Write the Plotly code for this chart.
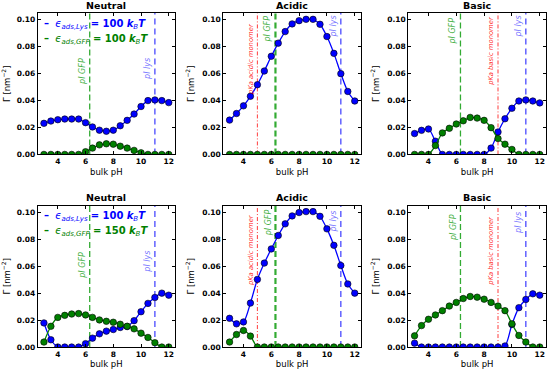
import plotly.graph_objects as go

# ---------------- data ----------------
ph = [3.0, 3.5, 4.0, 4.5, 5.0, 5.5, 6.0, 6.5, 7.0, 7.5, 8.0, 8.5, 9.0, 9.5, 10.0, 10.5, 11.0, 11.5, 12.0]

neutral_100_lys = [0.0231, 0.0248, 0.0258, 0.0263, 0.0263, 0.0263, 0.0236, 0.0204, 0.0180, 0.0172, 0.0180, 0.0213, 0.0253, 0.0300, 0.0356, 0.0400, 0.0405, 0.0400, 0.0385]
neutral_100_gfp = [0, 0, 0, 0, 0, 0, 0.0020, 0.0047, 0.0071, 0.0079, 0.0076, 0.0061, 0.0047, 0.0030, 0.0012, 0, 0, 0, 0]

acidic_100_lys = [0.0255, 0.0304, 0.0361, 0.0432, 0.0518, 0.0620, 0.0729, 0.0827, 0.0913, 0.0970, 0.0994, 0.1004, 0.1004, 0.0967, 0.0876, 0.0751, 0.0600, 0.0468, 0.0397]
acidic_100_gfp = [0, 0, 0, 0, 0, 0, 0, 0, 0, 0, 0, 0, 0, 0, 0, 0, 0, 0, 0]

basic_100_lys = [0.0155, 0.0179, 0.0189, 0.0098, 0, 0, 0, 0, 0, 0, 0, 0.0047, 0.0167, 0.0265, 0.0343, 0.0397, 0.0405, 0.0397, 0.0383]
basic_100_gfp = [0, 0, 0, 0.0066, 0.0160, 0.0194, 0.0226, 0.0250, 0.0275, 0.0270, 0.0253, 0.0199, 0.0118, 0.0076, 0.0037, 0, 0, 0, 0]

neutral_150_lys = [0.0179, 0.0054, 0, 0, 0, 0, 0.0025, 0.0066, 0.0098, 0.0118, 0.0130, 0.0145, 0.0152, 0.0196, 0.0262, 0.0324, 0.0368, 0.0400, 0.0385]
neutral_150_gfp = [0.0037, 0.0154, 0.0220, 0.0235, 0.0245, 0.0248, 0.0238, 0.0220, 0.0201, 0.0191, 0.0184, 0.0169, 0.0154, 0.0135, 0.0103, 0.0071, 0.0032, 0, 0]

acidic_150_lys = [0.0213, 0.0172, 0.0186, 0.0326, 0.0502, 0.0623, 0.0728, 0.0828, 0.0914, 0.0973, 0.0998, 0.1005, 0.1005, 0.0970, 0.0877, 0.0755, 0.0605, 0.0468, 0.0400]
acidic_150_gfp = [0.0037, 0.0093, 0.0123, 0.0081, 0, 0, 0, 0, 0, 0, 0, 0, 0, 0, 0, 0, 0, 0, 0]

basic_150_lys = [0.0029, 0, 0, 0, 0, 0, 0, 0, 0, 0, 0, 0, 0, 0.0008, 0.0167, 0.0292, 0.0353, 0.0395, 0.0385]
basic_150_gfp = [0.0083, 0.0159, 0.0206, 0.0238, 0.0270, 0.0304, 0.0331, 0.0360, 0.0375, 0.0370, 0.0355, 0.0331, 0.0304, 0.0270, 0.0172, 0.0086, 0.0037, 0, 0]

panel_titles = ["Neutral", "Acidic", "Basic", "Neutral", "Acidic", "Basic"]
lys_series = [neutral_100_lys, acidic_100_lys, basic_100_lys, neutral_150_lys, acidic_150_lys, basic_150_lys]
gfp_series = [neutral_100_gfp, acidic_100_gfp, basic_100_gfp, neutral_150_gfp, acidic_150_gfp, basic_150_gfp]

PI_GFP = 6.3
PI_LYS = 11.0
PKA_ACIDIC = 5.0
PKA_BASIC = 9.0

eps_lys = [100, 100]
eps_gfp = [100, 150]

x_ticks = [4, 6, 8, 10, 12]
y_ticks = [0.0, 0.02, 0.04, 0.06, 0.08, 0.10]
y_tick_text = ["0.00", "0.02", "0.04", "0.06", "0.08", "0.10"]

# label tops (data units) for vertical-line labels per panel
label_tops = [
    {"gfp": 0.073, "lys": 0.0735},
    {"gfp": 0.105, "lys": 0.105, "pka": 0.0995},
    {"gfp": 0.1035, "lys": 0.105, "pka": 0.1045},
    {"gfp": 0.072, "lys": 0.0733},
    {"gfp": 0.104, "lys": 0.103, "pka": 0.1005},
    {"gfp": 0.1005, "lys": 0.102, "pka": 0.099},
]
pka_lines = [None, ("pKa acidic monomer", PKA_ACIDIC), ("pKa basic monomer", PKA_BASIC),
             None, ("pKa acidic monomer", PKA_ACIDIC), ("pKa basic monomer", PKA_BASIC)]

# ---------------- styling ----------------
BLUE = "#0000ff"
GREEN = "#008000"
FONT = "DejaVu Sans"
W, H = 550, 377

x_domains = [[37.7 / W, 175 / W], [223.3 / W, 361 / W], [408.3 / W, 546 / W]]
y_domains = [[1 - 156.5 / H, 1 - 13.3 / H], [1 - 351.7 / H, 1 - 208.3 / H]]

fig = go.Figure()
layout = dict(
    width=W, height=H,
    margin=dict(l=0, r=0, t=0, b=0),
    paper_bgcolor="white", plot_bgcolor="white",
    showlegend=False,
    font=dict(family=FONT, color="black", size=8),
)
shapes = []
annotations = []

for i in range(6):
    n = i + 1
    xa = "x" if n == 1 else f"x{n}"
    ya = "y" if n == 1 else f"y{n}"
    col = i % 3
    row = i // 3

    fig.add_trace(go.Scatter(
        x=ph, y=lys_series[i], xaxis=xa, yaxis=ya, mode="lines+markers",
        line=dict(color=BLUE, width=1.3, shape="spline", smoothing=0.8),
        marker=dict(color=BLUE, size=6.5, line=dict(color="black", width=0.6)),
    ))
    fig.add_trace(go.Scatter(
        x=ph, y=gfp_series[i], xaxis=xa, yaxis=ya, mode="lines+markers",
        line=dict(color=GREEN, width=1.3, shape="spline", smoothing=0.8),
        marker=dict(color=GREEN, size=6.5, line=dict(color="black", width=0.6)),
    ))

    layout[f"xaxis{n if n > 1 else ''}"] = dict(
        domain=x_domains[col], anchor=ya, range=[2.55, 12.45],
        tickvals=x_ticks, ticks="inside", ticklen=3, tickwidth=0.8, tickcolor="black",
        showline=True, linecolor="black", linewidth=1, mirror="ticks",
        showgrid=False, zeroline=False,
        tickfont=dict(family=FONT, size=7.5, color="black", weight="bold"),
        title=dict(text="bulk pH", font=dict(family=FONT, size=8.5), standoff=3),
    )
    layout[f"yaxis{n if n > 1 else ''}"] = dict(
        domain=y_domains[row], anchor=xa, range=[0, 0.105],
        tickvals=y_ticks, ticktext=y_tick_text, ticks="inside", ticklen=3, tickwidth=0.8, tickcolor="black",
        showline=True, linecolor="black", linewidth=1, mirror="ticks",
        showgrid=False, zeroline=False,
        tickfont=dict(family=FONT, size=7.5, color="black", weight="bold"),
        title=dict(text="Γ [nm<sup>−2</sup>]", font=dict(family=FONT, size=8.5), standoff=6),
    )

    ydom = f"{ya} domain"
    # vertical reference lines
    gfp_w = 2.2 if col == 1 else 1.3
    shapes.append(dict(type="line", xref=xa, yref=ydom, x0=PI_GFP, x1=PI_GFP, y0=0, y1=1,
                       line=dict(color="rgba(0,150,0,0.8)", width=gfp_w, dash="6px,3px"), layer="below"))
    shapes.append(dict(type="line", xref=xa, yref=ydom, x0=PI_LYS, x1=PI_LYS, y0=0, y1=1,
                       line=dict(color="rgba(40,40,255,0.85)", width=1.3, dash="6px,4px"), layer="below"))
    annotations.append(dict(text="<i>pI GFP</i>", x=PI_GFP, y=label_tops[i]["gfp"], xref=xa, yref=ya,
                            xanchor="right", yanchor="top", textangle=-90, showarrow=False, xshift=-1,
                            font=dict(family=FONT, size=8, color="rgba(0,150,0,0.75)")))
    annotations.append(dict(text="<i>pI lys</i>", x=PI_LYS, y=label_tops[i]["lys"], xref=xa, yref=ya,
                            xanchor="right", yanchor="top", textangle=-90, showarrow=False, xshift=-1,
                            font=dict(family=FONT, size=8, color="rgba(60,60,255,0.7)")))
    if pka_lines[i] is not None:
        lbl, xv = pka_lines[i]
        shapes.append(dict(type="line", xref=xa, yref=ydom, x0=xv, x1=xv, y0=0, y1=1,
                           line=dict(color="rgba(255,0,0,0.85)", width=0.9, dash="4px,2px,1px,2px"), layer="below"))
        annotations.append(dict(text=f"<i>{lbl}</i>", x=xv, y=label_tops[i]["pka"], xref=xa, yref=ya,
                                xanchor="right", yanchor="top", textangle=-90, showarrow=False, xshift=-1,
                                font=dict(family=FONT, size=6.8, color="rgba(255,0,0,0.85)")))

    # panel title
    cx = (x_domains[col][0] + x_domains[col][1]) / 2
    ty = 1 - 6 / H if row == 0 else 1 - 200 / H
    annotations.append(dict(text=f"<b>{panel_titles[i]}</b>", x=cx, y=ty, xref="paper", yref="paper",
                            xanchor="center", yanchor="middle", showarrow=False,
                            font=dict(family=FONT, size=9.5, color="black")))

    # legend in neutral panels
    if col == 0:
        annotations.append(dict(
            text=f"<b>–</b>  <i>ϵ</i><sub><i>ads,Lys</i></sub> <b>= {eps_lys[row]}</b> <i><b>k</b></i><sub><i>B</i></sub><i><b>T</b></i>",
            x=2.85, y=0.0965, xref=xa, yref=ya, xanchor="left", yanchor="middle", showarrow=False,
            font=dict(family=FONT, size=10, color=BLUE)))
        annotations.append(dict(
            text=f"<b>–</b>  <i>ϵ</i><sub><i>ads,GFP</i></sub> <b>= {eps_gfp[row]}</b> <i><b>k</b></i><sub><i>B</i></sub><i><b>T</b></i>",
            x=2.85, y=0.0855, xref=xa, yref=ya, xanchor="left", yanchor="middle", showarrow=False,
            font=dict(family=FONT, size=10, color=GREEN)))

layout["shapes"] = shapes
layout["annotations"] = annotations
fig.update_layout(**layout)
fig.write_html("out.html", config={"displayModeBar": False},
               post_script="document.body.style.margin='0';document.body.style.overflow='hidden';")
